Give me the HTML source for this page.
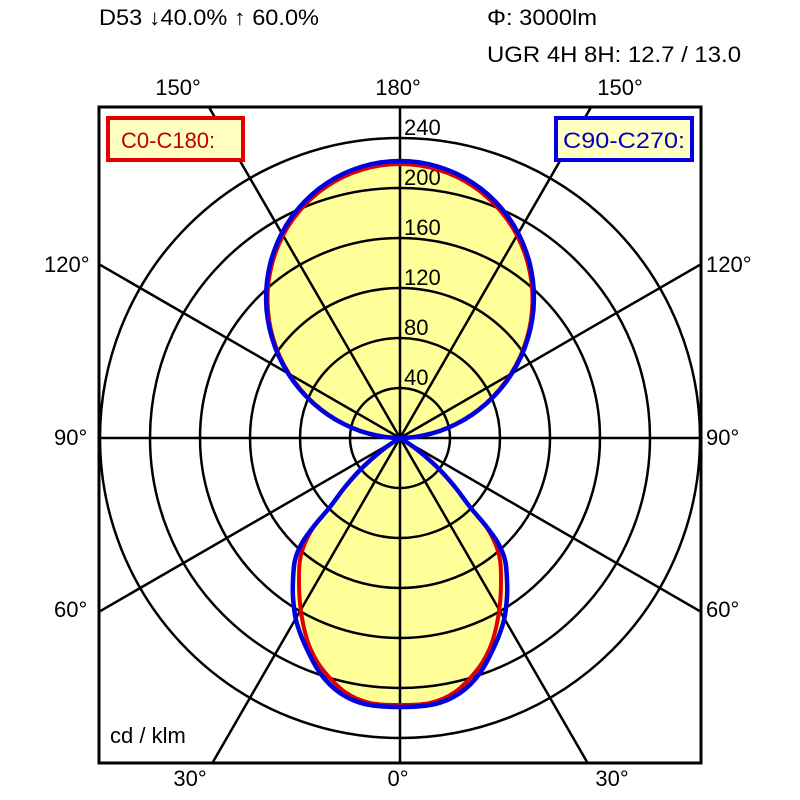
<!DOCTYPE html>
<html><head><meta charset="utf-8"><style>
html,body{margin:0;padding:0;background:#fff;width:800px;height:800px;overflow:hidden}
svg{display:block}
text{font-family:"Liberation Sans",Arial,sans-serif;font-size:22px;fill:#000}
</style></head><body>
<svg width="800" height="800" viewBox="0 0 800 800" xmlns="http://www.w3.org/2000/svg" overflow="hidden">
<defs><clipPath id="bx"><rect x="99" y="107" width="602" height="656"/></clipPath></defs>
<text x="99" y="25" textLength="220" lengthAdjust="spacingAndGlyphs">D53 ↓40.0% ↑ 60.0%</text>
<text x="487" y="25" textLength="110" lengthAdjust="spacingAndGlyphs">Φ: 3000lm</text>
<text x="487" y="62" textLength="254" lengthAdjust="spacingAndGlyphs">UGR 4H 8H: 12.7 / 13.0</text>
<text x="178" y="95" text-anchor="middle">150°</text>
<text x="398" y="95" text-anchor="middle">180°</text>
<text x="620" y="95" text-anchor="middle">150°</text>
<text x="44" y="272">120°</text>
<text x="706" y="272">120°</text>
<text x="54" y="445">90°</text>
<text x="706" y="445">90°</text>
<text x="54" y="617">60°</text>
<text x="706" y="617">60°</text>
<text x="190" y="786" text-anchor="middle">30°</text>
<text x="398" y="786" text-anchor="middle">0°</text>
<text x="612" y="786" text-anchor="middle">30°</text>
<g clip-path="url(#bx)">
<path id="up" fill="#ffff99" stroke="none" d=""/>
<path id="dn" fill="#ffff99" stroke="none" d=""/>
<g fill="none" stroke="#000" stroke-width="2.5">
<circle cx="400" cy="438" r="50"/><circle cx="400" cy="438" r="100"/><circle cx="400" cy="438" r="150"/>
<circle cx="400" cy="438" r="200"/><circle cx="400" cy="438" r="250"/><circle cx="400" cy="438" r="300"/>
<line x1="400" y1="100" x2="400" y2="770"/><line x1="90" y1="438" x2="710" y2="438"/>
<line x1="400" y1="438" x2="9.0" y2="-239.2"/><line x1="400" y1="438" x2="791" y2="-239.2"/>
<line x1="400" y1="438" x2="9.0" y2="1115.2"/><line x1="400" y1="438" x2="791" y2="1115.2"/>
<line x1="400" y1="438" x2="-277" y2="47.1"/><line x1="400" y1="438" x2="1077" y2="47.1"/>
<line x1="400" y1="438" x2="-277" y2="828.9"/><line x1="400" y1="438" x2="1077" y2="828.9"/>
</g>
</g>
<rect x="99" y="107" width="602" height="656" fill="none" stroke="#000" stroke-width="3"/>
<text x="404" y="135">240</text>
<text x="404" y="185">200</text>
<text x="404" y="235">160</text>
<text x="404" y="285">120</text>
<text x="404" y="335">80</text>
<text x="404" y="385">40</text>
<path id="upr" fill="none" stroke="#e00000" stroke-width="4" d=""/>
<path id="dnr" fill="none" stroke="#e00000" stroke-width="4" d=""/>
<path id="upb" fill="none" stroke="#0000e0" stroke-width="4.5" d=""/>
<path id="dnb" fill="none" stroke="#0000e0" stroke-width="4.5" d=""/>
<rect x="108" y="118" width="135" height="42" fill="#ffffc0" stroke="#e00000" stroke-width="4"/>
<text x="121" y="148" style="fill:#c00000">C0-C180:</text>
<rect x="556" y="118" width="136" height="42" fill="#ffffc0" stroke="#0000e0" stroke-width="4"/>
<text x="563" y="148" style="fill:#0000c0" textLength="122" lengthAdjust="spacingAndGlyphs">C90-C270:</text>
<rect x="104" y="718" width="96" height="34" fill="#fff"/>
<text x="110" y="743">cd / klm</text>
</svg>
<script>
function lobe(D,p){var s="";for(var a=-90;a<=90;a+=2){var t=a*Math.PI/180;var r=D*Math.pow(Math.max(Math.cos(t),0),p);var x=400+r*Math.sin(t),y=438-r*Math.cos(t);s+=(s?" L":"M")+x.toFixed(1)+","+y.toFixed(1);}return s+" Z";}
function smooth(half){
  var pts=half.slice();
  for(var i=half.length-2;i>=0;i--){pts.push([800-half[i][0],half[i][1]]);}
  var s="M"+pts[0][0]+","+pts[0][1];
  for(var i=0;i<pts.length-1;i++){
    var p0=pts[Math.max(i-1,0)],p1=pts[i],p2=pts[i+1],p3=pts[Math.min(i+2,pts.length-1)];
    var c1=[p1[0]+(p2[0]-p0[0])/6,p1[1]+(p2[1]-p0[1])/6];
    var c2=[p2[0]-(p3[0]-p1[0])/6,p2[1]-(p3[1]-p1[1])/6];
    s+=" C"+c1[0].toFixed(1)+","+c1[1].toFixed(1)+" "+c2[0].toFixed(1)+","+c2[1].toFixed(1)+" "+p2[0].toFixed(1)+","+p2[1].toFixed(1);
  }
  return s+" Z";
}
var blue=[[400,438],[385,448],[363,467],[345,487],[330,507],[314,526],[302,543],[295,560],[293,580],[293,597],[296,620],[305,645],[320,673],[340,693],[365,704],[400,707]];
var red=[[400,438],[385,448],[363,467],[345,487],[330,507],[315,525],[305,543],[300,560],[299,580],[300,603],[304,628],[311,650],[323,670],[345,692],[370,703],[400,705]];
document.getElementById("up").setAttribute("d",lobe(277,1.1));
document.getElementById("dn").setAttribute("d",smooth(blue));
document.getElementById("upr").setAttribute("d",lobe(274,1.1));
document.getElementById("upb").setAttribute("d",lobe(277,1.1));
document.getElementById("dnr").setAttribute("d",smooth(red));
document.getElementById("dnb").setAttribute("d",smooth(blue));
</script>
</body></html>
